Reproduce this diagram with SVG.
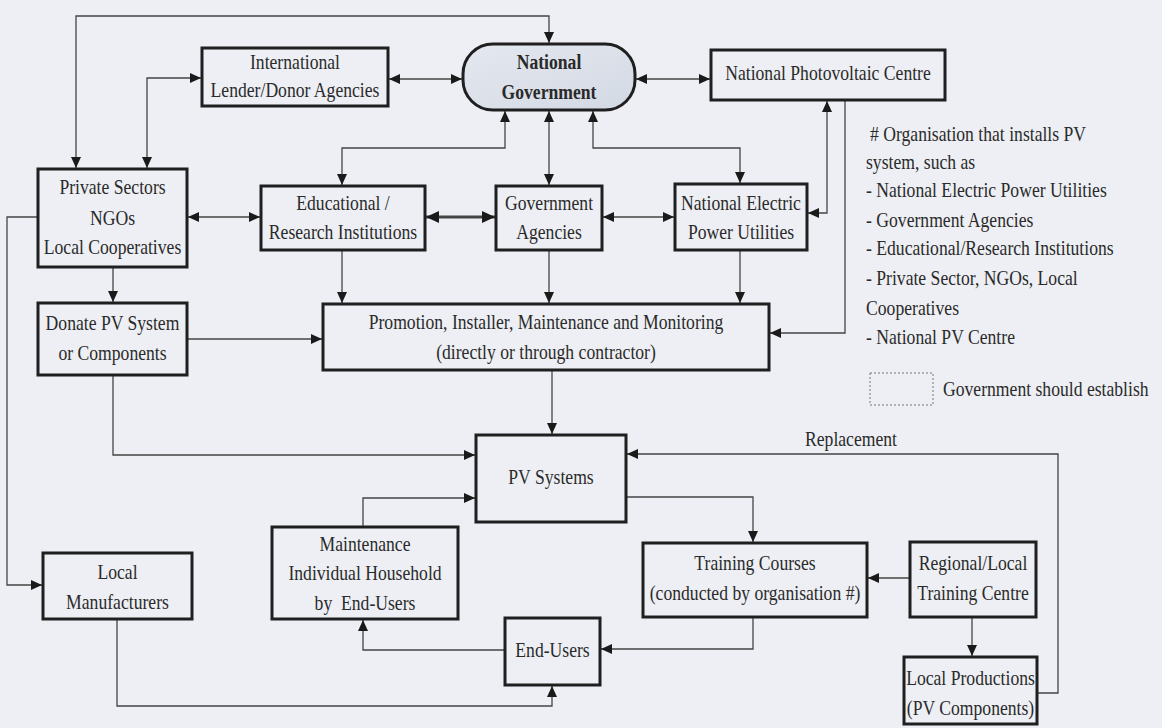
<svg xmlns="http://www.w3.org/2000/svg" width="1162" height="728" viewBox="0 0 1162 728">
<defs>
<marker id="ah" markerUnits="userSpaceOnUse" markerWidth="11" markerHeight="10" refX="11" refY="5" orient="auto-start-reverse"><path d="M0,0 L11,5 L0,10 z" fill="#1a1a1a"/></marker>
<marker id="ahb" markerUnits="userSpaceOnUse" markerWidth="13" markerHeight="12" refX="13" refY="6" orient="auto-start-reverse"><path d="M0,0 L13,6 L0,12 z" fill="#1a1a1a"/></marker>
<linearGradient id="gg" x1="0" y1="0" x2="1" y2="1"><stop offset="0" stop-color="#e4e8ef"/><stop offset="1" stop-color="#d3d9e4"/></linearGradient>
</defs>
<style>
.box{fill:none;stroke:#1f1f1f;stroke-width:3}
.t{font-family:"Liberation Serif","Times New Roman",serif;font-size:21px;fill:#2a2a2a;text-anchor:middle}
.b{font-weight:bold}
.l{text-anchor:start}
.c{fill:none;stroke:#444;stroke-width:1.3}
.a2{marker-start:url(#ah);marker-end:url(#ah)}
.a1{marker-end:url(#ah)}
.thick{stroke-width:3;marker-start:url(#ahb);marker-end:url(#ahb)}
</style>
<rect width="1162" height="728" fill="#edeff4"/>
<g id="connectors">
<path class="c a2" d="M76,168 V16 H549 V43"/>
<path class="c a2" d="M147,168 V78 H201"/>
<path class="c a2" d="M389,79 H462"/>
<path class="c a2" d="M636,79 H710"/>
<path class="c a2" d="M505,111 V148 H342 V185"/>
<path class="c a2" d="M549,111 V185"/>
<path class="c a2" d="M593,111 V148 H740 V183"/>
<path class="c a2" d="M188,217 H260"/>
<path class="c thick" d="M426,217 H495"/>
<path class="c a2" d="M603,217 H674"/>
<path class="c a2" d="M808,213 H827 V101"/>
<path class="c a1" d="M845,101 V333 H770"/>
<path class="c a1" d="M113,268 V302"/>
<path class="c a1" d="M342,251 V303"/>
<path class="c a1" d="M549,251 V303"/>
<path class="c a1" d="M740,251 V303"/>
<path class="c a1" d="M188,339 H322"/>
<path class="c a1" d="M38,217 H7 V585 H42"/>
<path class="c a1" d="M113,376 V455 H475"/>
<path class="c a1" d="M552,371 V434"/>
<path class="c a1" d="M363,526 V498 H475"/>
<path class="c a1" d="M504,650 H363 V620"/>
<path class="c a1" d="M117,620 V706 H552 V686"/>
<path class="c a1" d="M627,497 H753 V542"/>
<path class="c a1" d="M909,578 H868"/>
<path class="c a1" d="M753,618 V649 H601"/>
<path class="c a1" d="M972,618 V656"/>
<path class="c a1" d="M1038,693 H1058 V454 H627"/>
<text class="t" transform="matrix(.84 0 0 1 851 446)">Replacement</text>
</g>
<g id="intl"><rect class="box" x="202" y="48" width="186" height="58"/><text class="t" transform="matrix(.84 0 0 1 295 69)">International</text><text class="t" transform="matrix(.84 0 0 1 295 97)">Lender/Donor Agencies</text></g>
<g id="gov"><rect x="463" y="44" width="172" height="66" rx="30" ry="30" fill="url(#gg)" stroke="#1f1f1f" stroke-width="3"/><text class="t b" transform="matrix(.84 0 0 1 549 69)">National</text><text class="t b" transform="matrix(.84 0 0 1 549 99)">Government</text></g>
<g id="pvc"><rect class="box" x="711" y="50" width="234" height="50"/><text class="t" transform="matrix(.84 0 0 1 828 80)">National Photovoltaic Centre</text></g>
<g id="private"><rect class="box" x="38" y="169" width="149" height="98"/><text class="t" transform="matrix(.84 0 0 1 112.5 194)">Private Sectors</text><text class="t" transform="matrix(.84 0 0 1 112.5 225)">NGOs</text><text class="t" transform="matrix(.84 0 0 1 112.5 254)">Local Cooperatives</text></g>
<g id="edu"><rect class="box" x="261" y="186" width="164" height="64"/><text class="t" transform="matrix(.84 0 0 1 343 210)">Educational /</text><text class="t" transform="matrix(.84 0 0 1 343 239)">Research Institutions</text></g>
<g id="govag"><rect class="box" x="496" y="186" width="106" height="64"/><text class="t" transform="matrix(.84 0 0 1 549 210)">Government</text><text class="t" transform="matrix(.84 0 0 1 549 239)">Agencies</text></g>
<g id="natelec"><rect class="box" x="675" y="184" width="132" height="66"/><text class="t" transform="matrix(.84 0 0 1 741 210)">National Electric</text><text class="t" transform="matrix(.84 0 0 1 741 239)">Power Utilities</text></g>
<g id="donate"><rect class="box" x="38" y="303" width="149" height="72"/><text class="t" transform="matrix(.84 0 0 1 112.5 330)">Donate PV System</text><text class="t" transform="matrix(.84 0 0 1 112.5 360)">or Components</text></g>
<g id="promo"><rect class="box" x="323" y="304" width="446" height="66"/><text class="t" transform="matrix(.84 0 0 1 546 329)">Promotion, Installer, Maintenance and Monitoring</text><text class="t" transform="matrix(.84 0 0 1 546 359)">(directly or through contractor)</text></g>
<g id="pv"><rect class="box" x="476" y="435" width="150" height="87"/><text class="t" transform="matrix(.84 0 0 1 551 484)">PV Systems</text></g>
<g id="maint"><rect class="box" x="272" y="527" width="186" height="92"/><text class="t" transform="matrix(.84 0 0 1 365 551)">Maintenance</text><text class="t" transform="matrix(.84 0 0 1 365 580)">Individual Household</text><text class="t" transform="matrix(.84 0 0 1 365 610)">by&#160; End-Users</text></g>
<g id="localman"><rect class="box" x="43" y="553" width="149" height="66"/><text class="t" transform="matrix(.84 0 0 1 117.5 579)">Local</text><text class="t" transform="matrix(.84 0 0 1 117.5 609)">Manufacturers</text></g>
<g id="endusers"><rect class="box" x="505" y="618" width="95" height="67"/><text class="t" transform="matrix(.84 0 0 1 552.5 657)">End-Users</text></g>
<g id="training"><rect class="box" x="643" y="543" width="224" height="74"/><text class="t" transform="matrix(.84 0 0 1 755 570)">Training Courses</text><text class="t" transform="matrix(.84 0 0 1 755 600)">(conducted by organisation #)</text></g>
<g id="regional"><rect class="box" x="910" y="542" width="126" height="75"/><text class="t" transform="matrix(.84 0 0 1 973 570)">Regional/Local</text><text class="t" transform="matrix(.84 0 0 1 973 600)">Training Centre</text></g>
<g id="localprod"><rect class="box" x="904" y="657" width="133" height="67"/><text class="t" transform="matrix(.84 0 0 1 970.5 685)">Local Productions</text><text class="t" transform="matrix(.84 0 0 1 970.5 715)">(PV Components)</text></g>
<g id="legend">
<text class="t l" transform="matrix(.84 0 0 1 870 141)"># Organisation that installs PV</text>
<text class="t l" transform="matrix(.84 0 0 1 866 169)">system, such as</text>
<text class="t l" transform="matrix(.84 0 0 1 866 197)">- National Electric Power Utilities</text>
<text class="t l" transform="matrix(.84 0 0 1 866 227)">- Government Agencies</text>
<text class="t l" transform="matrix(.84 0 0 1 866 255)">- Educational/Research Institutions</text>
<text class="t l" transform="matrix(.84 0 0 1 866 285)">- Private Sector, NGOs, Local</text>
<text class="t l" transform="matrix(.84 0 0 1 866 315)">Cooperatives</text>
<text class="t l" transform="matrix(.84 0 0 1 866 344)">- National PV Centre</text>
<rect x="870" y="373" width="63" height="32" fill="none" stroke="#777" stroke-width="1" stroke-dasharray="2,2"/>
<text class="t l" transform="matrix(.84 0 0 1 943 396)">Government should establish</text>
</g>
</svg>
